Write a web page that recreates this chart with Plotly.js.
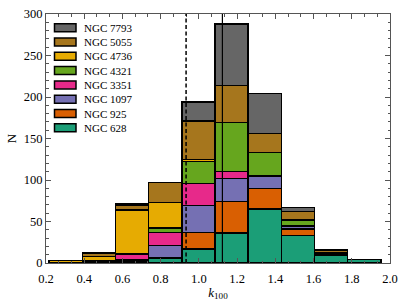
<!DOCTYPE html>
<html>
<head>
<meta charset="utf-8">
<script src="https://cdn.plot.ly/plotly-3.0.1.min.js"></script>
<style>html,body{margin:0;padding:0;background:#fff;}#chart{width:407px;height:305px;}</style>
</head>
<body>
<div id="chart"></div>
<script>
// Bin centres (k100) and bin width
const binCenters = [0.3035, 0.477, 0.6505, 0.824, 0.9975, 1.171, 1.3445, 1.518, 1.6915, 1.865];
const binWidth = 0.1735;

// Galaxies, bottom of stack first
const galaxies = ["NGC 628", "NGC 925", "NGC 1097", "NGC 3351", "NGC 4321", "NGC 4736", "NGC 5055", "NGC 7793"];
const colors = ["#1b9e77", "#d95f02", "#7570b3", "#e7298a", "#66a61e", "#e6ab02", "#a6761d", "#666666"];

const ngc628  = [0, 0, 2, 6, 17, 36, 65, 33, 9, 4];
const ngc925  = [0, 1, 1, 0, 20, 38, 25, 8, 1, 0];
const ngc1097 = [0, 1, 1, 15, 32, 28, 14, 3, 1, 0];
const ngc3351 = [0, 1, 6, 16, 27, 8, 1, 1, 0, 0];
const ngc4321 = [0, 0, 1, 5, 26, 59, 28, 7, 1, 0];
const ngc4736 = [3, 5, 53, 31, 3, 0, 0, 0, 0, 0];
const ngc5055 = [0, 4, 6, 24, 46, 45, 23, 10, 3, 0];
const ngc7793 = [0, 0, 1, 0, 23, 74, 48, 5, 1, 0];
const series = [ngc628, ngc925, ngc1097, ngc3351, ngc4321, ngc4736, ngc5055, ngc7793];

// Reference lines
const dashedLineX = 0.933;
const solidLineX = 1.123;

const W = 407, H = 305;
const M = {l: 46, r: 17, t: 14, b: 42};
const plotW = W - M.l - M.r, plotH = H - M.t - M.b;
const px2x = p => (p - M.l) / plotW;
const py2y = p => (H - M.b - p) / plotH;

const traces = galaxies.map((name, i) => ({
  type: "bar",
  name: name,
  x: binCenters,
  y: series[i],
  width: binWidth,
  marker: {color: colors[i], line: {color: "#000", width: 1.5}},
  showlegend: false
}));

const serif = "Times New Roman, Liberation Serif, DejaVu Serif, serif";
const font = {family: serif, size: 12, color: "#000"};

// Custom legend (top item = last in stack)
const shapes = [
  {type: "line", xref: "x", yref: "paper", x0: dashedLineX, x1: dashedLineX, y0: 0, y1: 1,
   line: {color: "#000", width: 1.5, dash: "4px,2.5px"}},
  {type: "line", xref: "x", yref: "paper", x0: solidLineX, x1: solidLineX, y0: 0, y1: 1,
   line: {color: "#000", width: 1.2}}
];
const annotations = [];
const order = galaxies.map((g, i) => i).reverse();
order.forEach((gi, k) => {
  const cy = 27.7 + k * 14.3;
  shapes.push({type: "rect", xref: "paper", yref: "paper",
    x0: px2x(54.5), x1: px2x(76), y0: py2y(cy + 4), y1: py2y(cy - 4),
    fillcolor: colors[gi], line: {color: "#000", width: 1.5}});
  annotations.push({xref: "paper", yref: "paper", x: px2x(82), y: py2y(cy),
    xanchor: "left", yanchor: "middle", showarrow: false, text: galaxies[gi],
    font: {family: serif, size: 11, color: "#000"}});
});

const layout = {
  width: W, height: H,
  margin: M,
  barmode: "stack",
  bargap: 0,
  paper_bgcolor: "#fff",
  plot_bgcolor: "#fff",
  font: font,
  showlegend: false,
  xaxis: {
    range: [0.2, 2.0], dtick: 0.2, tick0: 0.2, tickformat: ".1f",
    ticks: "inside", ticklen: 5, tickcolor: "#555",
    showline: true, linecolor: "#555", linewidth: 1, mirror: "allticks",
    showgrid: false, zeroline: false, ticklabelstandoff: 4,
    tickfont: {family: serif, size: 12.5},
    minor: {ticks: "inside", ticklen: 2.5, dtick: 0.2/3, tickcolor: "#555"},
    title: {text: "<i>k</i><sub>100</sub>", font: {family: serif, size: 13}, standoff: 2}
  },
  yaxis: {
    range: [0, 300], dtick: 50,
    ticks: "inside", ticklen: 5, tickcolor: "#555",
    showline: true, linecolor: "#555", linewidth: 1, mirror: "allticks",
    showgrid: false, zeroline: false,
    tickfont: {family: serif, size: 12.5},
    minor: {ticks: "inside", ticklen: 2.5, dtick: 10, tickcolor: "#555"},
    title: {text: "N", font: {family: serif, size: 13}, standoff: 4}
  },
  shapes: shapes,
  annotations: annotations
};

Plotly.newPlot("chart", traces, layout, {displayModeBar: false, staticPlot: true});
</script>
</body>
</html>
